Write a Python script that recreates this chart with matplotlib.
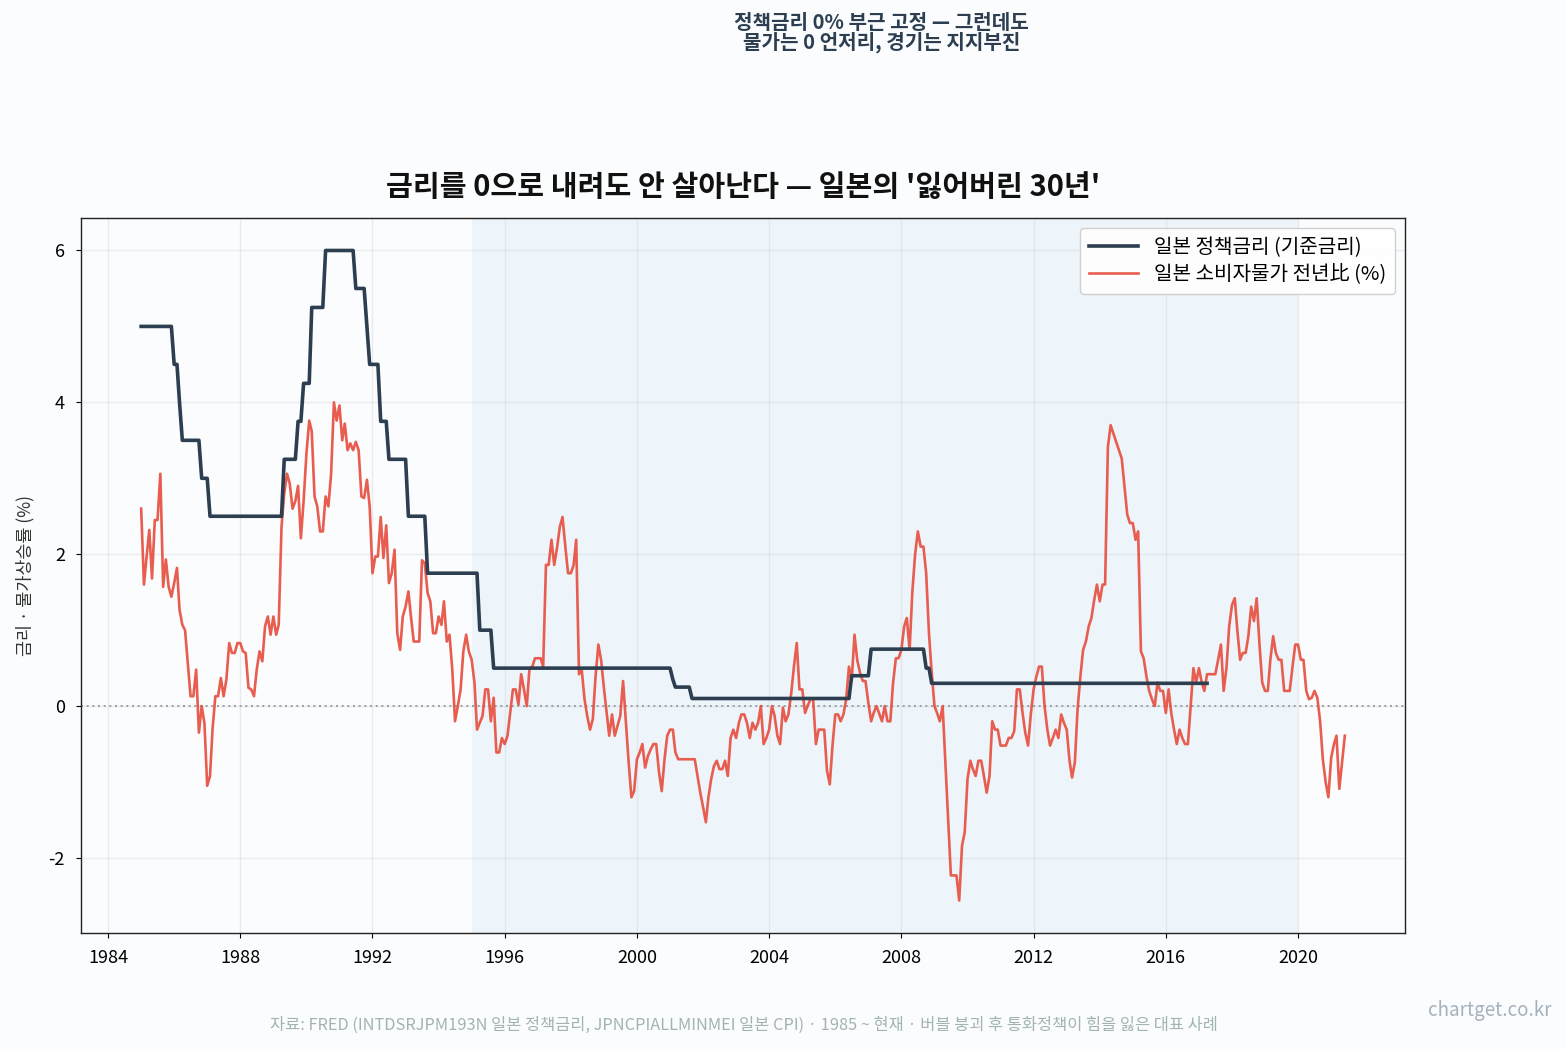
import numpy as np
import pandas as pd
import matplotlib
matplotlib.use("Agg")
import matplotlib.pyplot as plt
import matplotlib.dates as mdates

plt.rcParams['font.family'] = ['Noto Sans CJK KR', 'DejaVu Sans']
plt.rcParams['axes.unicode_minus'] = False

# ---------------- data ----------------
start_month = "1985-01-01"

# Japan policy (discount) rate, run-length encoded monthly values
policy_levels = [5.0, 4.5, 4.0, 3.5, 3.0, 2.5, 3.25, 3.75, 4.25, 5.25, 6.0, 5.5, 5.0,
                 4.5, 3.75, 3.25, 2.5, 1.75, 1.0, 0.5, 0.35, 0.25, 0.1, 0.4, 0.75, 0.5, 0.3]
policy_months = [12, 2, 1, 7, 3, 27, 5, 2, 3, 5, 11, 4, 1,
                 4, 3, 7, 7, 19, 5, 65, 1, 6, 58, 7, 20, 2, 101]

# Japan CPI year-over-year (%), monthly from Jan 1985
cpi_yoy = [
    2.60, 1.60, 1.95, 2.32, 1.68, 2.45, 2.45, 3.06, 1.57, 1.93, 1.57, 1.44,   # 1985
    1.62, 1.82, 1.27, 1.07, 1.00, 0.55, 0.13, 0.13, 0.48, -0.35, 0.00, -0.22,  # 1986
    -1.05, -0.92, -0.30, 0.13, 0.13, 0.37, 0.13, 0.35, 0.83, 0.70, 0.70, 0.83,  # 1987
    0.83, 0.72, 0.70, 0.24, 0.22, 0.13, 0.48, 0.72, 0.59, 1.05, 1.18, 0.94,     # 1988
    1.18, 0.94, 1.07, 2.36, 2.80, 3.06, 2.93, 2.60, 2.70, 2.90, 2.21, 2.70,     # 1989
    3.32, 3.76, 3.62, 2.76, 2.63, 2.30, 2.30, 2.76, 2.63, 3.06, 4.00, 3.76,     # 1990
    3.96, 3.50, 3.72, 3.37, 3.46, 3.37, 3.48, 3.37, 2.76, 2.74, 2.98, 2.63,     # 1991
    1.75, 1.97, 1.97, 2.49, 1.95, 2.38, 1.62, 1.75, 2.06, 0.96, 0.74, 1.18,     # 1992
    1.31, 1.51, 1.18, 0.85, 0.85, 0.85, 1.92, 1.88, 1.49, 1.38, 0.96, 0.96,     # 1993
    1.18, 1.07, 1.38, 0.85, 0.94, 0.48, -0.20, 0.00, 0.22, 0.72, 0.94, 0.72,    # 1994
    0.61, 0.31, -0.31, -0.22, -0.13, 0.22, 0.22, -0.20, 0.11, -0.61, -0.61, -0.42,  # 1995
    -0.50, -0.39, -0.09, 0.22, 0.22, 0.02, 0.42, 0.22, 0.00, 0.50, 0.52, 0.63,  # 1996
    0.63, 0.63, 0.52, 1.86, 1.86, 2.19, 1.86, 2.08, 2.36, 2.49, 2.10, 1.75,     # 1997
    1.75, 1.86, 2.19, 0.42, 0.48, 0.09, -0.13, -0.31, -0.17, 0.39, 0.81, 0.61,  # 1998
    0.24, -0.09, -0.39, -0.11, -0.39, -0.26, -0.13, 0.33, -0.20, -0.73, -1.20, -1.12,  # 1999
    -0.70, -0.61, -0.50, -0.81, -0.66, -0.57, -0.50, -0.50, -0.87, -1.12, -0.70, -0.39,  # 2000
    -0.31, -0.31, -0.61, -0.70, -0.70, -0.70, -0.70, -0.70, -0.70, -0.70, -0.92, -1.14,  # 2001
    -1.33, -1.53, -1.20, -0.96, -0.79, -0.72, -0.83, -0.83, -0.72, -0.92, -0.42, -0.31,  # 2002
    -0.42, -0.22, -0.11, -0.11, -0.22, -0.42, -0.22, -0.31, -0.22, 0.00, -0.50, -0.42,  # 2003
    -0.31, 0.00, -0.13, -0.39, -0.50, -0.02, -0.20, -0.11, 0.17, 0.52, 0.83, 0.22,  # 2004
    0.22, -0.09, 0.00, 0.09, 0.09, -0.50, -0.31, -0.31, -0.31, -0.85, -1.03, -0.52,  # 2005
    -0.11, -0.11, -0.20, -0.11, 0.09, 0.52, 0.33, 0.94, 0.60, 0.44, 0.33, 0.33,  # 2006
    0.04, -0.20, -0.09, 0.00, -0.10, -0.20, 0.00, -0.20, -0.20, 0.30, 0.63, 0.63,  # 2007
    0.74, 1.05, 1.16, 0.74, 1.50, 2.00, 2.30, 2.10, 2.10, 1.75, 0.96, 0.44,     # 2008
    0.00, -0.10, -0.20, 0.00, -0.74, -1.53, -2.23, -2.23, -2.23, -2.56, -1.84, -1.66,  # 2009
    -0.96, -0.72, -0.83, -0.92, -0.72, -0.72, -0.92, -1.14, -0.92, -0.20, -0.31, -0.31,  # 2010
    -0.52, -0.52, -0.52, -0.42, -0.42, -0.33, 0.22, 0.22, -0.09, -0.35, -0.52, -0.11,  # 2011
    0.22, 0.39, 0.52, 0.52, 0.00, -0.31, -0.52, -0.42, -0.31, -0.42, -0.11, -0.22,  # 2012
    -0.31, -0.72, -0.94, -0.74, -0.04, 0.39, 0.74, 0.85, 1.05, 1.16, 1.40, 1.60,  # 2013
    1.38, 1.60, 1.60, 3.41, 3.70, 3.59, 3.48, 3.37, 3.26, 2.89, 2.52, 2.41,     # 2014
    2.41, 2.19, 2.30, 0.72, 0.63, 0.39, 0.20, 0.09, 0.00, 0.31, 0.20, 0.20,     # 2015
    -0.09, 0.22, -0.09, -0.31, -0.50, -0.31, -0.42, -0.50, -0.50, 0.00, 0.50, 0.31,  # 2016
    0.50, 0.31, 0.20, 0.42, 0.42, 0.42, 0.42, 0.61, 0.81, 0.20, 0.50, 1.05,     # 2017
    1.33, 1.42, 1.00, 0.61, 0.70, 0.70, 0.92, 1.31, 1.12, 1.42, 0.81, 0.31,     # 2018
    0.20, 0.20, 0.61, 0.92, 0.70, 0.61, 0.61, 0.20, 0.20, 0.20, 0.52, 0.81,     # 2019
    0.81, 0.61, 0.61, 0.20, 0.09, 0.11, 0.20, 0.11, -0.20, -0.70, -1.00, -1.20,  # 2020
    -0.68, -0.50, -0.39, -1.09, -0.74, -0.39,                                  # 2021
]

policy_label = "일본 정책금리 (기준금리)"
cpi_label = "일본 소비자물가 전년比 (%)"
title = "금리를 0으로 내려도 안 살아난다 — 일본의 '잃어버린 30년'"
subtitle = "정책금리 0% 부근 고정 — 그런데도\n물가는 0 언저리, 경기는 지지부진"
ylabel = "금리 · 물가상승률 (%)"
source = ("자료: FRED (INTDSRJPM193N 일본 정책금리, JPNCPIALLMINMEI 일본 CPI) · 1985 ~ 현재 · "
          "버블 붕괴 후 통화정책이 힘을 잃은 대표 사례")
watermark = "chartget.co.kr"
shade_start, shade_end = "1995-01-01", "2020-01-01"
tick_years = [1984, 1988, 1992, 1996, 2000, 2004, 2008, 2012, 2016, 2020]
y_ticks = [-2, 0, 2, 4, 6]

# ---------------- build ----------------
policy = np.repeat(policy_levels, policy_months)
policy_dates = pd.date_range(start_month, periods=len(policy), freq="MS")
cpi_dates = pd.date_range(start_month, periods=len(cpi_yoy), freq="MS")

bg = "#fafcfd"
fig = plt.figure(figsize=(15.66, 10.49), dpi=100, facecolor=bg)
ax = fig.add_axes([0.0517, 0.1106, 0.8455, 0.6816], facecolor=bg)

ax.axvspan(pd.Timestamp(shade_start), pd.Timestamp(shade_end), color="#e3eef9", alpha=0.55, lw=0, zorder=0)
ax.axhline(0, color="#8a9596", lw=1.2, ls=(0, (1.2, 2.2)), zorder=1)
ax.plot(policy_dates, policy, color="#2c3e50", lw=2.6, label=policy_label, zorder=3)
ax.plot(cpi_dates, cpi_yoy, color="#e74c3c", lw=1.9, alpha=0.9, label=cpi_label, zorder=2)

ax.set_xticks([pd.Timestamp(f"{y}-01-01") for y in tick_years])
ax.xaxis.set_major_formatter(mdates.DateFormatter("%Y"))
ax.set_yticks(y_ticks)
ax.tick_params(axis="x", labelsize=13, colors="#000000", pad=8)
ax.tick_params(axis="y", labelsize=13, colors="#000000", pad=8)
ax.grid(True, color="#d5d8dc", alpha=0.45, lw=1)
ax.set_axisbelow(True)
for s in ax.spines.values():
    s.set_color("#222222")
    s.set_linewidth(1.0)

ax.set_ylabel(ylabel, fontsize=12.5, color="#333333", labelpad=10)
ax.set_title(title, fontsize=21, fontweight="bold", pad=16, color="#111111")

leg = ax.legend(loc="upper right", fontsize=14.5, frameon=True, framealpha=0.9,
                edgecolor="#cccccc", handlelength=2.4, borderpad=0.45, labelspacing=0.3)

fig.text(0.563, 0.989, subtitle, ha="center", va="top", fontsize=14.5, fontweight="bold",
         color="#2c3e50", linespacing=0.92)
fig.text(0.475, 0.023, source, ha="center", va="center", fontsize=11.8, color="#a3b3b3")
fig.text(0.991, 0.037, watermark, ha="right", va="center", fontsize=13.5, color="#a5b1bd")

fig.savefig("out.png", dpi=100, facecolor=bg)
